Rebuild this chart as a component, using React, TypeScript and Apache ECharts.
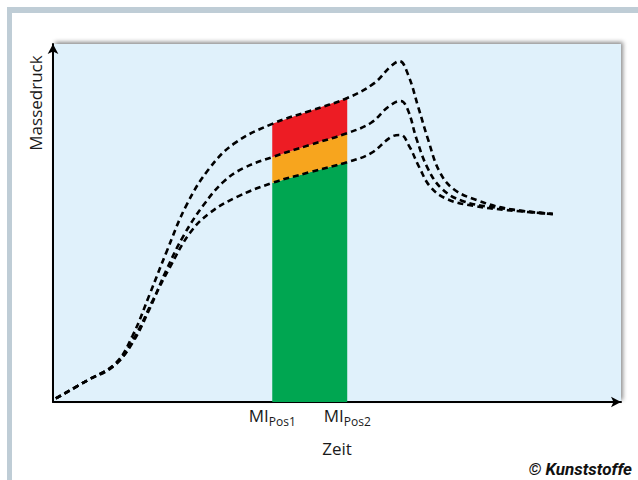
import React, { useEffect, useRef } from 'react';
import * as echarts from 'echarts';

// Curves: [Zeit, Massedruck] in relative units (0..100)
const upperCurve: number[][] = [
  [0.5, 1.0], [6, 6], [11, 10.8], [14, 18.5], [17, 30], [20, 42], [23.5, 55], [27.5, 65.2],
  [32, 72.3], [38.6, 77.7], [45.2, 81.3], [51.8, 84.9], [56.5, 89], [59.5, 93.8], [61, 95.2],
  [62.5, 91.5], [64.3, 82.4], [66, 73.5], [68, 64.5], [70.5, 59.5], [74.6, 56.4], [80, 54], [88, 52.5],
];
const middleCurve: number[][] = [
  [0.5, 1.0], [6, 6], [11, 10.6], [14, 16.5], [17, 26], [20, 37], [23, 46.5], [26.5, 55],
  [30, 61.5], [33.5, 65.3], [38.6, 68.4], [45.2, 71.8], [51.8, 75.1], [56, 78], [59, 82.4],
  [61.2, 84.1], [62.5, 81.5], [64, 73.5], [66, 65.2], [68.5, 59.5], [72, 56.2], [77, 54.5], [88, 52.5],
];
const lowerCurve: number[][] = [
  [0.5, 1.0], [6, 6], [11, 10.4], [14.5, 18.5], [17.6, 28.5], [20.6, 37.7], [24.1, 47.2],
  [27.6, 52.8], [32.4, 57.3], [38.6, 61.2], [45.2, 64.2], [51.8, 67.0], [56, 69.5], [59.5, 74],
  [61.2, 74.6], [62.7, 71.5], [64.5, 65.5], [66.5, 60], [69.5, 56.6], [74, 54.8], [80, 53.6], [88, 52.5],
];

// Band between MI positions
const bandX = [38.6, 45.2, 51.8];
const bandGreenTop = [61.2, 64.2, 67.0];
const bandOrangeTop = [68.4, 71.8, 75.1];
const bandRedTop = [77.7, 81.3, 84.9];

const tickValues = [38.6, 51.8];
const tickMain = ['MI', 'MI'];
const tickSub = ['Pos1', 'Pos2'];

const FONT = '"Open Sans", "Noto Sans", sans-serif';

function bandSeries(lower: number[] | null, upper: number[], color: string) {
  return {
    type: 'custom',
    silent: true,
    z: 1,
    data: [[bandX[0], 0]],
    renderItem: (_params: any, api: any) => {
      const pts: number[][] = [];
      bandX.forEach((x, i) => pts.push(api.coord([x, upper[i]])));
      for (let i = bandX.length - 1; i >= 0; i--) {
        pts.push(api.coord([bandX[i], lower ? lower[i] : 0]));
      }
      return { type: 'polygon', shape: { points: pts }, style: { fill: color } };
    },
  };
}

function curveSeries(data: number[][]) {
  return {
    type: 'line',
    data,
    smooth: 0.4,
    symbol: 'none',
    z: 5,
    silent: true,
    lineStyle: { color: '#000', width: 2.6, type: [6, 4] },
  };
}

export default function App() {
  const ref = useRef<HTMLDivElement>(null);
  useEffect(() => {
    const chart = echarts.init(ref.current!, null, { renderer: 'svg' });
    const option: any = {
      animation: false,
      backgroundColor: '#ffffff',
      grid: {
        left: 53, right: 17, top: 44, bottom: 78, show: true,
        backgroundColor: '#e0f1fb', borderWidth: 0,
        shadowColor: 'rgba(0,0,0,0.45)', shadowBlur: 4, shadowOffsetX: 2, shadowOffsetY: -2,
      },
      xAxis: {
        type: 'value', min: 0, max: 100,
        splitLine: { show: false }, axisTick: { show: false },
        axisLine: {
          show: true, onZero: false, symbol: ['none', 'arrow'], symbolSize: [8, 10],
          lineStyle: { color: '#000', width: 2 },
        },
        axisLabel: {
          customValues: tickValues,
          margin: 1,
          formatter: (v: number) => {
            const i = tickValues.findIndex((t) => Math.abs(t - v) < 1e-6);
            return i < 0 ? '' : `{m|${tickMain[i]}}{s|${tickSub[i]}}`;
          },
          rich: {
            m: { fontSize: 17, fontFamily: FONT, color: '#1a1a1a', lineHeight: 24, verticalAlign: 'middle' },
            s: { fontSize: 12, fontFamily: FONT, color: '#1a1a1a', lineHeight: 24, verticalAlign: 'bottom' },
          },
        },
        name: 'Zeit', nameLocation: 'middle', nameGap: 38,
        nameTextStyle: { fontSize: 17, fontFamily: FONT, color: '#1a1a1a' },
      },
      yAxis: {
        type: 'value', min: 0, max: 100,
        splitLine: { show: false }, axisTick: { show: false }, axisLabel: { show: false },
        axisLine: {
          show: true, onZero: false, symbol: ['none', 'arrow'], symbolSize: [8, 10],
          lineStyle: { color: '#000', width: 2 },
        },
      },
      graphic: [
        { type: 'rect', left: 7, top: 7, shape: { width: 631, height: 6 }, style: { fill: '#bfcdd6' } },
        { type: 'rect', left: 7, top: 7, shape: { width: 5, height: 473 }, style: { fill: '#bfcdd6' } },
        {
          type: 'text', x: 35, y: 103, rotation: Math.PI / 2,
          style: { text: 'Massedruck', fontSize: 17, fontFamily: FONT, fill: '#1a1a1a', align: 'center', verticalAlign: 'middle' },
        },
        {
          type: 'text', right: 6, bottom: 3,
          style: { text: '© Kunststoffe', fontSize: 17, fontWeight: 'bold', fontStyle: 'italic', fontFamily: '"Liberation Sans Narrow", "Roboto", sans-serif', fill: '#111' },
        },
      ],
      series: [
        bandSeries(null, bandGreenTop, '#00a651'),
        bandSeries(bandGreenTop, bandOrangeTop, '#f7a51e'),
        bandSeries(bandOrangeTop, bandRedTop, '#ed1c24'),
        curveSeries(upperCurve),
        curveSeries(middleCurve),
        curveSeries(lowerCurve),
      ],
    };
    chart.setOption(option);
    return () => chart.dispose();
  }, []);
  return <div ref={ref} style={{ position: 'absolute', left: 0, top: 0, width: 638, height: 480 }} />;
}
